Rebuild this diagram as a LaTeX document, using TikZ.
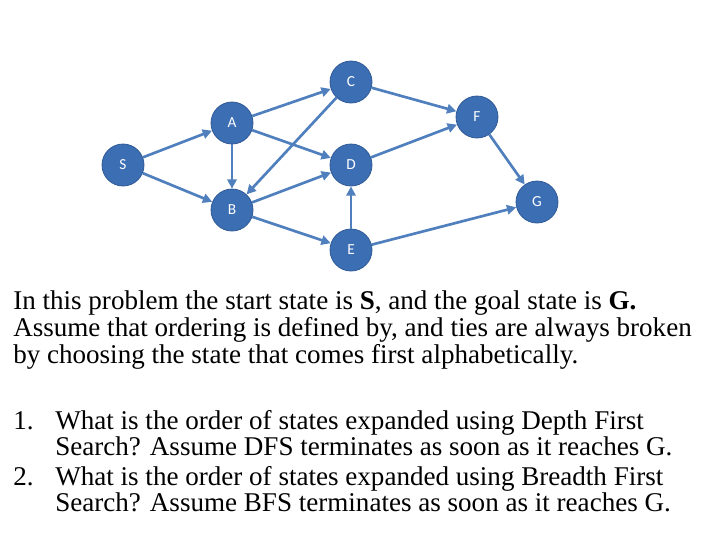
\documentclass[tikz,border=0pt]{standalone}
\usepackage{fontspec}
\setmainfont{Liberation Serif}
\newfontfamily\calib{Carlito}
\definecolor{nodefill}{HTML}{3C6EB4}
\definecolor{nodeedge}{HTML}{2F5A96}
\definecolor{edgecol}{HTML}{4F7FBD}
\usetikzlibrary{arrows.meta}
\begin{document}
\begin{tikzpicture}[x=0.75pt,y=-0.75pt,
  st/.style={circle,minimum size=31.5pt,inner sep=0pt,fill=nodefill,draw=nodeedge,line width=0.6pt,text=white,font=\calib\fontsize{11.5}{13}\selectfont},
  ed/.style={draw=edgecol,line width=2pt,-{Triangle[length=7pt,width=7pt]}},
  tx/.style={anchor=base west,inner sep=0pt,font=\fontsize{20.3}{20}\selectfont}]
\useasboundingbox (0,0) rectangle (720,540);
\node[st] (S) at (123,165) {S};
\node[st] (A) at (232,123) {A};
\node[st] (B) at (232,210) {B};
\node[st] (C) at (351,82) {C};
\node[st] (D) at (351,165) {D};
\node[st] (E) at (351,250) {E};
\node[st] (F) at (477,117) {F};
\node[st] (G) at (537,202) {G};
\draw[ed] (S) -- (A);
\draw[ed] (S) -- (B);
\draw[ed] (A) -- (C);
\draw[ed] (A) -- (D);
\draw[ed] (A) -- (B);
\draw[ed] (C) -- (B);
\draw[ed] (C) -- (F);
\draw[ed] (B) -- (D);
\draw[ed] (B) -- (E);
\draw[ed] (E) -- (D);
\draw[ed] (D) -- (F);
\draw[ed] (F) -- (G);
\draw[ed] (E) -- (G);
\node[tx] (t1) at (13,309) {In this problem the start state is \textbf{S}, and the goal state is \textbf{G.}};
\node[tx] (t2) at (13,336) {Assume that ordering is defined by, and ties are always broken};
\node[tx] (t3) at (13,363) {by choosing the state that comes first alphabetically.};
\node[tx] (n1) at (13,429) {1.};
\node[tx] (q1a) at (55,429) {What is the order of states expanded using Depth First};
\node[tx] (q1b) at (55,455) {Search? Assume DFS terminates as soon as it reaches G.};
\node[tx] (n2) at (13,485) {2.};
\node[tx] (q2a) at (55,485) {What is the order of states expanded using Breadth First};
\node[tx] (q2b) at (55,511) {Search? Assume BFS terminates as soon as it reaches G.};
\end{tikzpicture}
\end{document}
